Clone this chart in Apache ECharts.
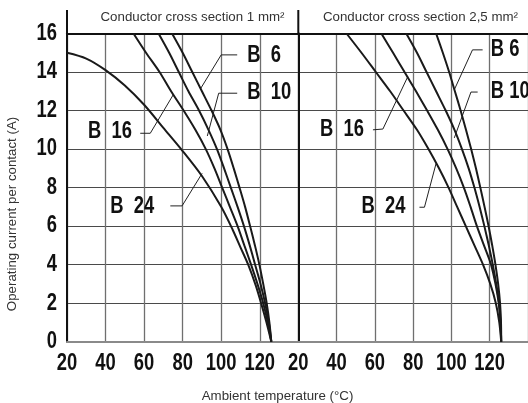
<!DOCTYPE html>
<html><head><meta charset="utf-8">
<script src="https://cdn.jsdelivr.net/npm/echarts@6/dist/echarts.min.js"></script>
<style>html,body{margin:0;padding:0;background:#fff}#c{width:528px;height:403px}</style>
</head><body><div id="c"></div>
<script>
// ---- texts / ticks ----
const panelTitles = ['Conductor cross section 1 mm²', 'Conductor cross section 2,5 mm²'];
const xName = 'Ambient temperature (°C)';
const yName = 'Operating current per contact (A)';
const xTickLabels = [20, 40, 60, 80, 100, 120];
const yTickLabels = [0, 2, 4, 6, 8, 10, 12, 14, 16];
const xMin = 20, xMax = 140, xStep = 20;
const yMin = 0, yMax = 16, yStep = 2;

// ---- curves: [ambient temperature °C, current A] ----
// Panel 1: 1 mm²
const b6_1  = [[74.5,16],[80,15],[85,14],[90,13],[95,12],[99.6,11],[103.3,10],[106.5,9],[109.5,8],[112.4,7],[115,6],[117.5,5],[119.8,4],[121.8,3],[123.6,2],[125,1],[126,0]];
const b10_1 = [[67.5,16],[73,15],[78,14],[83,13],[88.5,12],[93.4,11],[97.8,10],[101.5,9],[105,8],[108.5,7],[111.8,6],[114.8,5],[117.6,4],[120.4,3],[122.8,2],[124.7,1],[126,0]];
const b16_1 = [[54.5,16],[61,15],[68,14],[74,13],[80.5,12],[86.6,11],[92,10],[96.5,9],[100.5,8],[104.5,7],[108.5,6],[112,5],[115.5,4],[118.8,3],[121.8,2],[124.2,1],[126,0]];
const b24_1 = [[20,15],[30,14.7],[40,14.1],[50,13.3],[60,12.3],[70,11.1],[80,9.9],[90,8.6],[100,7.0],[106,5.8],[110,4.9],[114,4.0],[118,2.9],[121,1.9],[123.5,1.0],[126,0]];
// Panel 2: 2,5 mm²
const b6_2  = [[92,16],[95.5,15],[98.8,14],[101.8,13],[104.8,12],[107.6,11],[110.3,10],[112.8,9],[115.1,8],[117.3,7],[119.4,6],[121.3,5],[123,4],[124.4,3],[125.4,2],[125.9,1],[126,0]];
const b10_2 = [[76.4,16],[82,15],[87,14],[92,13],[97,12],[101.6,11],[105.5,10],[109,9],[112,8],[114.7,7],[117.2,6],[119.5,5],[121.6,4],[123.4,3],[124.9,2],[125.7,1],[126,0]];
const b16_2 = [[63.4,16],[69.5,15],[75.5,14],[81.5,13],[87.3,12],[92.9,11],[98,10],[102.5,9],[106.5,8],[110,7],[113.3,6],[117,5],[120.7,4],[123,3],[124.7,2],[125.6,1],[126,0]];
const b24_2 = [[45.2,16],[53,15],[60.5,14],[68,13],[75,12],[82,11],[88,10],[93.5,9],[98.5,8],[103,7],[107.5,6],[112,5],[116.5,4],[120.3,3],[123.2,2],[125,1],[126,0]];

// ---- curve labels (left edge of text at [T, I]) ----
const labelNames = ['B  6', 'B  10', 'B  16', 'B  24', 'B 6', 'B 10', 'B  16', 'B  24'];
const labelPanel = [0, 0, 0, 0, 1, 1, 1, 1];
const labelPos = [[113.5,14.83],[113.5,12.91],[30.9,10.9],[42.4,7.01],[120.6,15.15],[120.6,12.96],[31.3,11.0],[53,7.01]];
// leader lines (from label to curve)
const leaders = [
  [[108.3,14.89],[100,14.89],[89.2,13.12]],
  [[108.3,12.9],[98.7,12.9],[92.8,10.68]],
  [[58,10.82],[63.2,10.82],[75.3,12.85]],
  [[73.6,7.05],[79.7,7.05],[90.1,8.74]],
  [[116.3,15.15],[111,15.15],[101.5,13.08]],
  [[113.7,12.96],[110.2,12.96],[101.5,10.58]],
  [[59,11.0],[64.2,11.04],[77.2,13.76]],
  [[83.3,6.98],[85.9,6.98],[92,9.26]]
];

const curves = [[b6_1,0],[b10_1,0],[b16_1,0],[b24_1,0],[b6_2,1],[b10_2,1],[b16_2,1],[b24_2,1]];

const numFont = "'Liberation Sans',Arial,sans-serif";
const txtFont = "'Liberation Sans',Arial,sans-serif";
const numSize = 23, numScale = 0.8;

const gridTop = 33.5, gridH = 308.2, gridW = 231.3;
const chart = echarts.init(document.getElementById('c'), null, {renderer: 'canvas'});

function xAx(gi) {
  return {
    type: 'value', gridIndex: gi, min: xMin, max: xMax, interval: xStep,
    axisLine: {show: true, lineStyle: {color: '#8a8a8a', width: 2}},
    axisTick: {show: false}, axisLabel: {show: false},
    splitLine: {show: true, lineStyle: {color: '#6f6f6f', width: 1.3}}
  };
}
function xTop(gi) {
  return {
    type: 'value', gridIndex: gi, min: xMin, max: xMax, interval: xStep, position: 'top',
    axisLine: {show: true, onZero: false, lineStyle: {color: '#111', width: 2}},
    axisTick: {show: false}, axisLabel: {show: false}, splitLine: {show: false}
  };
}
function yAx(gi) {
  return {
    type: 'value', gridIndex: gi, min: yMin, max: yMax, interval: yStep,
    axisLine: {show: true, lineStyle: {color: '#111', width: 2}},
    axisTick: {show: false}, axisLabel: {show: false},
    splitLine: {show: true, lineStyle: {color: '#4a4a4a', width: 1}}
  };
}

const series = [];
curves.forEach(([d, p]) => series.push({
  type: 'line', xAxisIndex: p, yAxisIndex: p, data: d, smooth: 0.3, symbol: 'none',
  lineStyle: {color: '#1a1a1a', width: 2}, z: 5, silent: true
}));
leaders.forEach((d, i) => series.push({
  type: 'line', xAxisIndex: labelPanel[i], yAxisIndex: labelPanel[i], data: d, symbol: 'none',
  lineStyle: {color: '#222', width: 1}, z: 4, silent: true
}));

chart.setOption({
  animation: false,
  backgroundColor: '#fff',
  grid: [
    {left: 67, top: gridTop, width: gridW, height: gridH},
    {left: 298.3, top: gridTop, width: gridW, height: gridH}
  ],
  xAxis: [xAx(0), xAx(1), xTop(0), xTop(1)],
  yAxis: [yAx(0), yAx(1)],
  series: series
});

// ---- texts placed through the axes' scales ----
const g = [];
function numText(x, y, text, align) {
  return {type: 'text', x: x, y: y, scaleX: numScale, z: 10,
    style: {text: String(text), fill: '#111', fontSize: numSize, fontWeight: 'bold', fontFamily: numFont,
      textAlign: align, textVerticalAlign: 'middle'}};
}
yTickLabels.forEach(v => {
  const p = chart.convertToPixel({gridIndex: 0}, [xMin, v]);
  g.push(numText(p[0] - 10, p[1], v, 'right'));
});
[0, 1].forEach(gi => xTickLabels.forEach(v => {
  const p = chart.convertToPixel({gridIndex: gi}, [v, yMin]);
  g.push(numText(p[0], p[1] + 21.5, v, 'center'));
}));
labelPos.forEach((pt, i) => {
  const p = chart.convertToPixel({gridIndex: labelPanel[i]}, pt);
  g.push(numText(p[0], p[1], labelNames[i], 'left'));
});

const p0 = chart.convertToPixel({gridIndex: 0}, [xMin, yMax]);
const p1 = chart.convertToPixel({gridIndex: 1}, [xMin, yMax]);
const headH = 23.5;
const tf = '13.3px ' + txtFont;
g.push(
  {type: 'line', shape: {x1: p0[0], y1: p0[1] - headH, x2: p0[0], y2: p0[1]}, style: {stroke: '#111', lineWidth: 2}},
  {type: 'line', shape: {x1: p1[0], y1: p1[1] - headH, x2: p1[0], y2: p1[1]}, style: {stroke: '#111', lineWidth: 2}},
  {type: 'text', x: 192.5, y: p0[1] - 16.5, style: {text: panelTitles[0], fill: '#333', font: tf, textAlign: 'center', textVerticalAlign: 'middle'}},
  {type: 'text', x: 420.5, y: p0[1] - 16.5, style: {text: panelTitles[1], fill: '#333', font: tf, textAlign: 'center', textVerticalAlign: 'middle'}},
  {type: 'text', x: 277.5, y: 396, style: {text: xName, fill: '#333', font: tf, textAlign: 'center', textVerticalAlign: 'middle'}},
  {type: 'text', x: 12, y: 214, rotation: Math.PI / 2, style: {text: yName, fill: '#333', font: tf, textAlign: 'center', textVerticalAlign: 'middle'}}
);
chart.setOption({graphic: g});
</script></body></html>
